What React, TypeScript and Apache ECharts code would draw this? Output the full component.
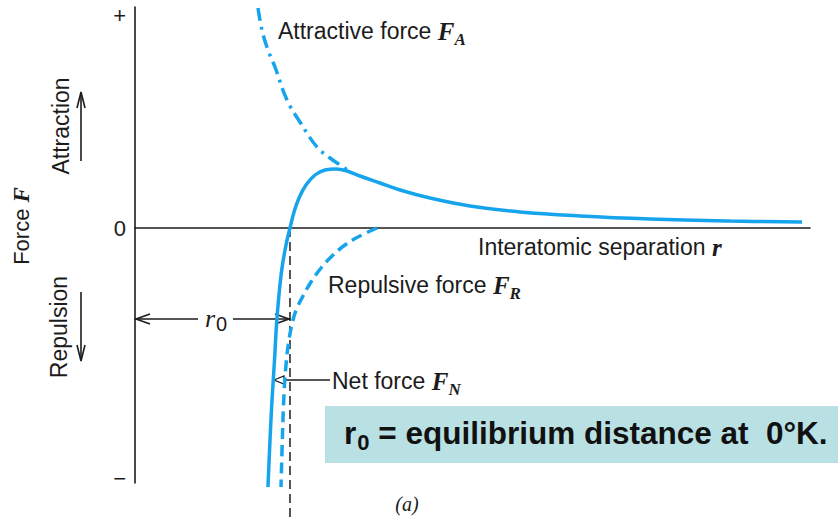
import React, { useEffect, useRef } from 'react';
import * as echarts from 'echarts';

// Net force F_N (solid): separation r, force F
const netR = [1.97, 2.0, 2.03, 2.067, 2.096, 2.133, 2.178, 2.237, 2.296, 2.356, 2.43, 2.533, 2.667, 2.815, 2.978, 3.141, 3.333, 3.63, 3.926, 4.37, 4.963, 5.704, 6.593, 7.63, 8.815, 9.881];
const netF = [-5.18, -4.24, -3.44, -2.64, -1.94, -1.34, -0.8, -0.34, 0, 0.32, 0.6, 0.86, 1.06, 1.16, 1.18, 1.14, 1.04, 0.9, 0.76, 0.6, 0.44, 0.32, 0.24, 0.18, 0.14, 0.12];

// Attractive force F_A (dash-dot)
const attR = [1.822, 1.881, 1.97, 2.074, 2.252, 2.444, 2.696, 2.889, 3.037, 3.215];
const attF = [4.4, 3.96, 3.56, 3.22, 2.56, 2.12, 1.62, 1.4, 1.26, 1.1];

// Repulsive force F_R (dashed)
const repR = [3.585, 3.333, 3.111, 2.919, 2.756, 2.607, 2.489, 2.4, 2.341, 2.281, 2.237, 2.207, 2.185, 2.163];
const repF = [0, -0.16, -0.34, -0.56, -0.8, -1.08, -1.36, -1.6, -1.84, -2.24, -2.74, -3.34, -4.14, -5.18];

// equilibrium distance and annotation levels
const r0 = 2.296;
const r0ArrowF = -1.82;
const netArrowF = -3.04;
const netArrowFrom = 2.889;
const netArrowTo = 2.044;
const dropLineBottom = -5.86;

// y "tick" labels
const yTickValues = [4.25, 0, -5.0];
const yTickTexts = ['+', '0', '\u2212'];

const BLUE = '#16a4ec';
const INK = '#1c1c1c';
const SANS = '"Liberation Sans", Arial, Helvetica, sans-serif';
const SERIF = '"Liberation Serif", "Times New Roman", serif';

const zip = (a: number[], b: number[]) => a.map((v, i) => [v, b[i]]);

export default function App() {
  const ref = useRef<HTMLDivElement>(null);
  useEffect(() => {
    if (!ref.current) return;
    const chart = echarts.init(ref.current, null, { renderer: 'svg' });
    chart.setOption({
      animation: false,
      backgroundColor: '#ffffff',
      grid: { left: 135, right: 28, top: 7, bottom: 37 },
      xAxis: {
        type: 'value', min: 0, max: 10,
        axisLine: { onZero: true, lineStyle: { color: INK, width: 1.6 } },
        axisTick: { show: false }, axisLabel: { show: false }, splitLine: { show: false },
      },
      yAxis: {
        type: 'value', min: -5.1, max: 4.42,
        axisLine: { show: true, onZero: false, lineStyle: { color: INK, width: 1.6 } },
        axisTick: { show: false }, axisLabel: { show: false }, splitLine: { show: false },
      },
      series: [
        {
          type: 'line', data: [[r0, 0], [r0, dropLineBottom]], symbol: 'none', clip: false,
          lineStyle: { color: INK, width: 1.5, type: [9, 5] }, z: 1,
        },
        {
          type: 'line', data: zip(repR, repF), symbol: 'none', smooth: 0.4, clip: false,
          lineStyle: { color: BLUE, width: 3.5, type: [11, 6] }, z: 2,
        },
        {
          type: 'line', data: zip(attR, attF), symbol: 'none', smooth: 0.4, clip: false,
          lineStyle: { color: BLUE, width: 3.5, type: [13, 6, 3, 6] }, z: 2,
        },
        {
          type: 'line', data: zip(netR, netF), symbol: 'none', smooth: 0.4, clip: false,
          lineStyle: { color: BLUE, width: 3.5 }, z: 3,
        },
      ],
    });

    const P = (x: number, y: number) => chart.convertToPixel({ gridIndex: 0 }, [x, y]) as number[];
    const lineEl = (x1: number, y1: number, x2: number, y2: number) => ({
      type: 'line', shape: { x1, y1, x2, y2 }, style: { stroke: INK, lineWidth: 1.6 },
    });
    const chevron = (pts: number[][]) => ({
      type: 'polyline', shape: { points: pts }, style: { stroke: INK, lineWidth: 1.6, fill: null },
    });

    const els: any[] = [];
    // y tick texts
    yTickValues.forEach((v, i) => {
      const p = P(0, v);
      els.push({ type: 'text', x: p[0] - 9, y: p[1], style: { text: yTickTexts[i], font: `22px ${SANS}`, fill: INK, align: 'right', verticalAlign: 'middle' } });
    });

    // r0 double arrow
    const a0 = P(0, r0ArrowF);
    const a1 = P(r0, r0ArrowF);
    els.push(lineEl(a0[0], a0[1], 198, a0[1]));
    els.push(lineEl(233, a1[1], a1[0], a1[1]));
    els.push(chevron([[a0[0] + 15, a0[1] - 5], [a0[0] + 1, a0[1]], [a0[0] + 15, a0[1] + 5]]));
    els.push(chevron([[a1[0] - 15, a1[1] - 5], [a1[0] - 1, a1[1]], [a1[0] - 15, a1[1] + 5]]));
    els.push({
      type: 'text', x: 216, y: a0[1] - 1,
      style: {
        text: '{r|r}{s|0}', align: 'center', verticalAlign: 'middle',
        rich: {
          r: { fontSize: 26, fontStyle: 'italic', fontFamily: SERIF, fill: INK },
          s: { fontSize: 20, fontFamily: SANS, fill: INK, padding: [12, 0, 0, 1] },
        },
      },
    });

    // Net force arrow
    const n0 = P(netArrowFrom, netArrowF);
    const n1 = P(netArrowTo, netArrowF);
    els.push(lineEl(n0[0], n0[1], n1[0], n1[1]));
    els.push({
      type: 'polygon', shape: { points: [[n1[0] + 1, n1[1]], [n1[0] + 11, n1[1] - 4], [n1[0] + 11, n1[1] + 4]] },
      style: { stroke: INK, lineWidth: 1.3, fill: '#ffffff' },
    });

    // Attraction / Repulsion arrows
    els.push(lineEl(81, 161, 81, 93));
    els.push(chevron([[77, 108], [81, 92], [85, 108]]));
    els.push(lineEl(81, 292, 81, 360));
    els.push(chevron([[77, 345], [81, 361], [85, 345]]));

    const sub = (size: number, pad: number) => ({
      fontSize: size, fontStyle: 'italic', fontWeight: 'bold', fontFamily: SERIF, fill: INK, padding: [pad, 0, 0, 0],
    });
    const normal = { fontSize: 23, fontFamily: SANS, fill: INK };
    const bigF = { fontSize: 25, fontStyle: 'italic', fontWeight: 'bold', fontFamily: SERIF, fill: INK };

    els.push({
      type: 'text', x: 278, y: 31,
      style: { text: '{n|Attractive force }{f|F}{s|A}', verticalAlign: 'middle', rich: { n: normal, f: bigF, s: sub(17, 16) } },
    });
    els.push({
      type: 'text', x: 478, y: 247,
      style: { text: '{n|Interatomic separation }{f|r}', verticalAlign: 'middle', rich: { n: normal, f: bigF } },
    });
    els.push({
      type: 'text', x: 328, y: 285,
      style: { text: '{n|Repulsive force }{f|F}{s|R}', verticalAlign: 'middle', rich: { n: normal, f: bigF, s: sub(17, 16) } },
    });
    els.push({
      type: 'text', x: 332, y: 381,
      style: { text: '{n|Net force }{f|F}{s|N}', verticalAlign: 'middle', rich: { n: normal, f: bigF, s: sub(17, 16) } },
    });

    // rotated axis labels
    els.push({
      type: 'text', x: 21, y: 226, rotation: Math.PI / 2,
      style: { text: '{n|Force }{f|F}', align: 'center', verticalAlign: 'middle', rich: { n: { fontSize: 22, fontFamily: SANS, fill: INK }, f: { fontSize: 23, fontStyle: 'italic', fontWeight: 'bold', fontFamily: SERIF, fill: INK } } },
    });
    els.push({
      type: 'text', x: 61, y: 126, rotation: Math.PI / 2,
      style: { text: 'Attraction', font: `23px ${SANS}`, fill: INK, align: 'center', verticalAlign: 'middle' },
    });
    els.push({
      type: 'text', x: 59, y: 327, rotation: Math.PI / 2,
      style: { text: 'Repulsion', font: `23px ${SANS}`, fill: INK, align: 'center', verticalAlign: 'middle' },
    });

    // (a)
    els.push({
      type: 'text', x: 407, y: 504,
      style: { text: '(a)', font: `italic 20px ${SERIF}`, fill: INK, align: 'center', verticalAlign: 'middle' },
    });

    // highlighted note box
    els.push({ type: 'rect', shape: { x: 325, y: 406, width: 513, height: 57 }, style: { fill: '#b9e0e3' }, z: 10 });
    els.push({
      type: 'text', x: 344, y: 433, z: 11,
      style: {
        text: '{b|r}{s|0}{b| = equilibrium distance at  0\u00b0K.}', verticalAlign: 'middle',
        rich: {
          b: { fontSize: 31.5, fontWeight: 'bold', fontFamily: SANS, fill: '#111111' },
          s: { fontSize: 22, fontWeight: 'bold', fontFamily: SANS, fill: '#111111', padding: [18, 0, 0, 1] },
        },
      },
    });

    chart.setOption({ graphic: els });
    return () => chart.dispose();
  }, []);

  return <div ref={ref} style={{ position: 'fixed', left: 0, top: 0, width: 838, height: 520, background: '#fff' }} />;
}
